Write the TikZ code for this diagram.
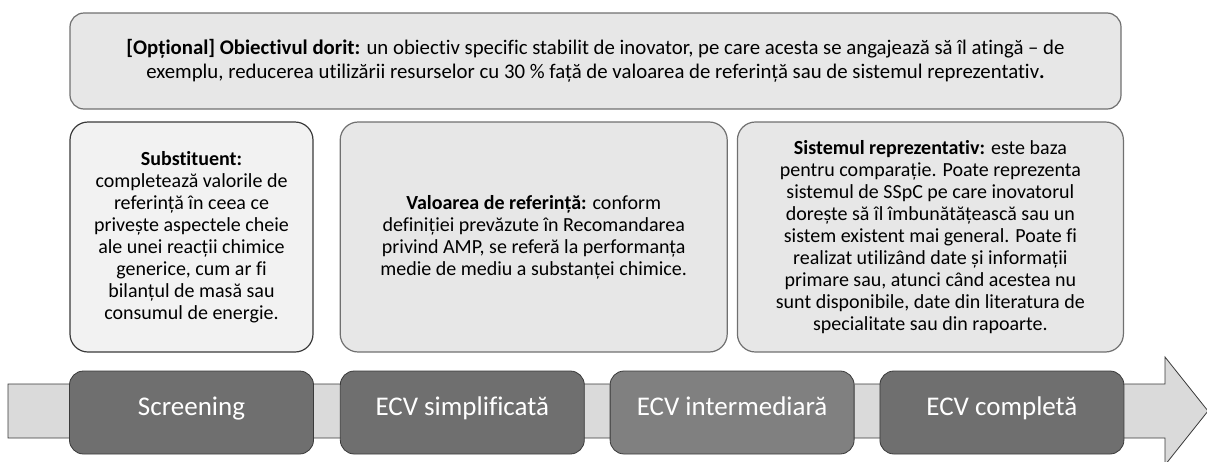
\documentclass[tikz,border=0pt]{standalone}
\usepackage{fontspec}
\setmainfont{Carlito}[Ligatures={NoCommon,NoRare}, Contextuals=NoAlternate]
\usetikzlibrary{positioning}
\definecolor{boxfill}{HTML}{E7E7E7}
\definecolor{boxline}{HTML}{707070}
\definecolor{substfill}{HTML}{F2F2F2}
\definecolor{substline}{HTML}{3A3A3A}
\definecolor{shaftfill}{HTML}{DADADA}
\definecolor{stagefill}{HTML}{6F6F6F}
\definecolor{stagelight}{HTML}{808080}

\begin{document}
\begin{tikzpicture}[x=1pt,y=-1pt,
    box/.style={draw=boxline, line width=1.2pt, fill=boxfill,
        rounded corners=18pt, inner sep=0pt, align=center,
        font=\fontsize{20}{22}\selectfont},
    stage/.style={draw=substline, line width=0.8pt, fill=stagefill,
        rounded corners=14pt, minimum width=244pt, minimum height=83pt,
        inner sep=0pt, text height=2ex, text depth=0.6ex, text=white,
        font=\fontsize{27}{30}\selectfont}]
    \useasboundingbox (0,0) rectangle (1207,461);
    % goal on top
    \node[box, rounded corners=14pt, minimum width=1051pt, minimum height=96pt,
        font=\fontsize{20.8}{24}\selectfont] (goal) at (595.5,61)
        {\textbf{[Opțional] Obiectivul dorit:} un obiectiv specific stabilit de inovator, pe care acesta se angajează să îl atingă – de\\
        exemplu, reducerea utilizării resurselor cu 30 \% față de valoarea de referință sau de sistemul reprezentativ\textbf{.}};
    % three reference boxes
    \node[box, fill=substfill, draw=substline, minimum width=243pt, minimum height=230pt] (subst) at (191.5,237)
        {\textbf{Substituent:}\\ completează valorile de\\ referință în ceea ce\\ privește aspectele cheie\\
        ale unei reacții chimice\\ generice, cum ar fi\\ bilanțul de masă sau\\ consumul de energie.};
    \node[box, minimum width=387pt, minimum height=230pt, right=26pt of subst] (ref)
        {\textbf{Valoarea de referință:} conform\\ definiției prevăzute în Recomandarea\\
        privind AMP, se referă la performanța\\ medie de mediu a substanței chimice.};
    \node[box, minimum width=386pt, minimum height=230pt, right=9pt of ref] (repr)
        {\textbf{Sistemul reprezentativ:} este baza\\ pentru comparație. Poate reprezenta\\
        sistemul de SSpC pe care inovatorul\\ dorește să îl îmbunătățească sau un\\
        sistem existent mai general. Poate fi\\ realizat utilizând date și informații\\
        primare sau, atunci când acestea nu\\ sunt disponibile, date din literatura de\\
        specialitate sau din rapoarte.};
    % process arrow
    \draw[fill=shaftfill, draw=substline, line width=0.8pt]
        (8,384) -- (1165,384) -- (1165,357) -- (1208,411) -- (1165,465)
        -- (1165,438) -- (8,438) -- cycle;
    \node[stage] (screen) at (191.5,412.5) {Screening};
    \node[stage, right=26pt of screen] (simpl) {ECV simplificată};
    \node[stage, fill=stagelight, right=25pt of simpl] (inter) {ECV intermediară};
    \node[stage, right=25pt of inter] (compl) {ECV completă};
\end{tikzpicture}
\end{document}
